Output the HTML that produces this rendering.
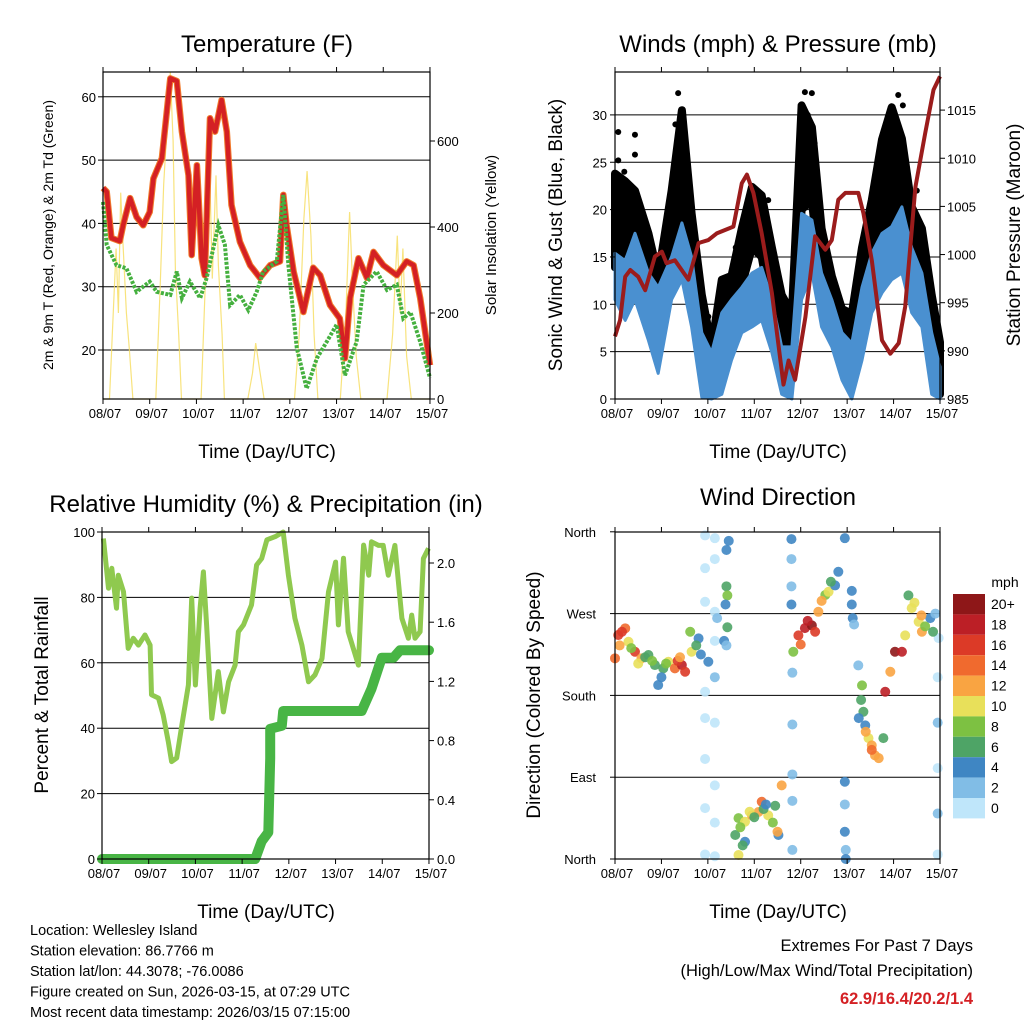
<!DOCTYPE html>
<html><head><meta charset="utf-8"><style>
body{margin:0;background:#fff}
svg{display:block;font-family:"Liberation Sans",Arial,sans-serif}
</style></head><body>
<svg id="c" width="1024" height="1024" viewBox="0 0 1024 1024"></svg>
<script>
// ---------- Temperature panel data ----------
const tDays=[0,0.08,0.18,0.36,0.43,0.58,0.72,0.86,1.0,1.08,1.26,1.44,1.58,1.69,1.83,1.9,2.01,2.11,2.18,2.29,2.4,2.54,2.65,2.75,2.93,3.15,3.36,3.58,3.79,3.86,3.93,4.08,4.29,4.5,4.65,4.86,5.07,5.18,5.29,5.47,5.65,5.79,6.0,6.29,6.5,6.65,6.79,7.0];
const tRed=[45.6,45,37.7,37.2,39.7,44,41,39.7,41.8,47.1,50.3,62.9,62.5,54.5,47.6,35,49.2,34.5,31.8,56.6,54.5,59.5,54.5,42.9,37.1,33.4,31.4,33.4,34,44.5,39.7,32.4,26,33,31.8,27.1,25,18.7,28.2,34.5,31.4,35.5,33.4,31.8,34,33.4,28.2,17.6];
const tdDays=[0,0.08,0.29,0.5,0.72,1.0,1.15,1.44,1.58,1.69,1.86,2.08,2.22,2.47,2.61,2.72,2.93,3.11,3.29,3.43,3.72,3.86,3.97,4.15,4.36,4.58,4.79,5.0,5.18,5.43,5.58,5.86,6.08,6.29,6.43,6.58,6.79,7.0];
const tdVals=[43.4,36.6,33.4,32.9,29.2,30.8,29.2,28.7,32.4,28.2,30.8,28.2,31.4,39.7,36.6,27.1,28.7,26.3,29.2,32.4,34,44.5,33.4,20.3,13.9,18.7,21.3,24,16,21.3,30.3,32.4,29.5,30.3,25,26,21.3,15.6];
const solDays=[0,0.14,0.2,0.28,0.33,0.38,0.42,0.5,0.56,0.64,1.13,1.22,1.3,1.38,1.44,1.5,1.55,1.62,1.68,2.1,2.2,2.28,2.34,2.42,2.47,2.55,2.6,3.1,3.2,3.27,3.35,3.45,4.1,4.2,4.3,4.37,4.45,4.52,4.6,5.08,5.2,5.28,5.35,5.42,5.52,6.08,6.2,6.3,6.36,6.42,6.5,6.6,7];
const solVals=[0,0,150,350,200,480,380,200,120,0,0,250,500,650,760,600,300,150,0,0,300,550,280,520,310,150,0,0,60,130,70,0,0,150,420,530,380,150,0,0,200,435,250,100,0,0,150,380,200,350,100,0,0];
const tTicks=[20,30,40,50,60], solTicks=[0,200,400,600];
const dayLabels=["08/07","09/07","10/07","11/07","12/07","13/07","14/07","15/07"];
// ---------- Wind panel data ----------
const wDays=[0,0.22,0.43,0.72,0.93,1.22,1.44,1.65,1.87,2.08,2.30,2.51,2.73,2.95,3.16,3.38,3.59,3.81,4.02,4.24,4.45,4.67,4.89,5.10,5.32,5.53,5.75,5.96,6.18,6.39,6.61,6.82,7];
const windHi=[15.4,14.6,17.5,13.3,11.8,15,18.6,15,7,4.9,9.1,10.5,11.8,13.3,13.9,10.5,5.5,5.5,19.6,18.9,13.3,10.5,7,5.9,11.8,15.4,17.5,18.2,20.3,16,13.3,7,3.4];
const windLo=[10.5,8.3,10.5,6.2,2.7,10.5,12.6,7.6,0.2,0,0.5,4.1,7,7.6,8.3,4.9,0.5,0,10.5,13.3,7.6,5.5,2,0,4.1,9.1,11.2,12.6,13.3,9.1,7.6,0.5,0];
const gustHi=[23.8,23,22,17.5,13,22,30.5,19.6,11,5.5,12.6,13,18,22.4,21.5,16,11,9,31,28.7,18,13,9.5,9,16,21,27.4,30.8,27.5,20.3,18,11,6];
const gustLo=[13.9,16,18,9,6,15,20,13,4,0.5,5,8,12,16,15,9,4,2,20,21,11,7.6,4,3,8.3,14.6,18,18,17.5,14,11,4.5,0.5];
const gustDotDays=[0.07,0.43,1.36,4.09,4.24,6.1,5.96,2.01,0.07,0.43,1.3,1.5,4.15,4.3,5.9,6.2,0.2,2.6,3.3,6.5];
const gustDotVals=[28.2,27.9,32.3,32.4,32.3,32.1,30.9,8.7,25.2,25.8,29,28,30,27,29,31,24,16,21,22];
const pDays=[0,0.11,0.22,0.33,0.5,0.65,0.86,1.01,1.11,1.29,1.58,1.8,2.01,2.19,2.55,2.73,2.84,2.98,3.16,3.38,3.63,3.74,3.88,4.1,4.31,4.53,4.67,4.81,4.96,5.24,5.35,5.53,5.75,5.93,6.11,6.25,6.47,6.68,6.86,7.0];
const pVals=[991.5,993.2,997.7,998.4,997.7,996.3,999.8,1000.3,999.1,999.4,997.4,1001.2,1001.5,1002.2,1002.9,1007.4,1008.3,1006.4,1002.2,996,986.5,989,987,993.5,1001.9,1000.5,1001.5,1005.7,1006.4,1006.4,1004.3,999.4,991.1,989.7,990.8,994.6,1007,1012.6,1017.1,1018.5];
const wTicks=[0,5,10,15,20,25,30], pTicks=[985,990,995,1000,1005,1010,1015];
// ---------- RH / precip ----------
const rhDays=[0.03,0.14,0.21,0.31,0.35,0.46,0.56,0.67,0.78,0.92,1.03,1.06,1.21,1.31,1.42,1.49,1.6,1.71,1.85,1.92,2.0,2.1,2.17,2.24,2.35,2.49,2.6,2.71,2.85,2.92,3.03,3.2,3.31,3.42,3.53,3.71,3.88,3.99,4.13,4.28,4.42,4.56,4.71,4.85,5.0,5.06,5.17,5.27,5.49,5.6,5.71,5.77,5.92,6.02,6.13,6.27,6.42,6.56,6.63,6.7,6.81,6.88,6.99];
const rhVals=[98,82.8,88.9,76.7,86.8,81.7,64.4,67.5,65.4,68.5,65.4,50.2,49.2,44,35.9,29.8,30.9,41,53.2,79.8,53.2,76.7,87.8,71.6,43,57.3,45,54.2,59.3,69.5,71.6,77.7,89.9,91.9,97.6,98.6,100,86.8,73.6,65.4,54.2,56.3,61.3,81.7,90.8,71.6,92,69.5,59.3,96,86.8,97,95.9,95.9,86.8,95.9,73.6,67.5,74.6,67.5,69.5,91.9,95];
const prDays=[0,3.28,3.42,3.56,3.6,3.6,3.85,3.88,5.56,5.77,5.99,6.24,6.38,7.0];
const prVals=[0,0,0.12,0.18,0.68,0.88,0.9,1.0,1.0,1.15,1.36,1.36,1.41,1.41];
const rhTicks=[0,20,40,60,80,100], prTicks=[0,0.4,0.8,1.2,1.6,2.0];
// ---------- Wind direction ----------
const wdDays=[0,0.07,0.22,0.29,0.43,0.57,0.72,0.86,0.93,1.04,1.15,1.29,1.44,1.51,1.65,1.62,1.8,2.01,0.1,0.15,0.35,0.5,0.65,0.8,1.0,1.1,1.35,1.4,1.75,1.85,
1.94,1.94,1.94,1.94,1.94,1.94,1.94,1.94,2.15,2.15,2.15,2.15,2.15,2.15,2.15,2.15,2.15,2.4,2.42,2.38,2.45,2.4,2.42,2.35,2.4,2.2,
2.59,2.66,2.8,2.95,3.09,3.16,3.3,3.45,3.59,3.52,2.66,2.8,2.7,2.9,3.0,3.2,3.4,3.5,3.25,2.75,
3.8,3.8,3.8,3.8,3.82,3.82,3.82,3.82,3.82,
3.84,3.95,4.09,4.24,4.31,4.38,4.53,4.6,4.74,4.81,4.0,4.15,4.45,4.65,
4.95,4.95,4.95,4.95,4.97,4.97,5.1,5.12,5.15,5.1,
5.24,5.32,5.35,5.39,5.46,5.53,5.6,5.68,5.78,5.53,5.3,5.4,5.25,
5.82,5.93,6.03,6.18,6.25,6.32,6.39,6.54,6.61,6.68,6.79,6.9,6.97,6.45,6.6,6.85,6.95,6.95,6.95,6.95,6.95];
const wdDir=[220.8,246.4,253.8,239,228,220.8,224.4,213.4,191.4,209.8,217,209.8,213.4,206,228,250,242.7,217,235,250,232,215,222,218,200,215,218,222,235,225,
356,320,283,184,155,110,56,5,353,330,272,240,200,150,81,40,3,300,290,280,350,340,255,240,235,265,
26.4,45,41,48,51.7,63,48,58.6,81,26.4,4.4,19,35,52,46,55,40,30,60,15,
352,330,300,280,205,148,93,64,10,
228,246,254,257,250,272,290.5,294,301,316,236,262,284,305,
353,85,60,30,10,0,280,265,258,295,
213,191,162,147,133,125,114,111,133,120,175,140,155,
184,206,228,228,246,290,276,261,250,256,265,270,243,282,268,250,200,150,100,50,5];
const wdSpd=[14,16,14,10,16,12,6,6,4,6,10,14,18,16,10,8,4,4,12,16,8,10,6,8,4,8,16,12,6,4,
0,0,0,0,0,0,0,0,0,0,0,0,2,0,0,0,0,6,8,4,4,4,6,4,2,2,
6,8,10,12,12,14,10,6,12,4,10,4,8,10,6,6,8,12,4,6,
4,2,2,4,2,2,2,2,2,
8,16,18,20,16,12,8,10,4,4,14,18,12,6,
4,4,2,4,2,4,4,4,2,4,
2,8,6,4,10,12,12,12,6,14,6,12,4,
18,12,20,18,10,6,10,10,12,8,4,2,0,10,12,6,0,2,0,2,0];
const dirTicks=[0,90,180,270,360], dirLabels=["North","East","South","West","North"];
const cbLabels=["20+","18","16","14","12","10","8","6","4","2","0"];
const cbColors=["#8e1718","#bc1f26","#dc3a27","#f06a2e","#f9a442","#e8e05a","#7dc142","#4ea466","#3f86c3","#81bde6","#bfe6fa"];

const S=document.getElementById('c');const NS="http://www.w3.org/2000/svg";
function el(t,a,p){const e=document.createElementNS(NS,t);for(const k in a)e.setAttribute(k,a[k]);(p||S).appendChild(e);return e;}
function txt(x,y,s,size,anchor,extra){const e=el('text',Object.assign({x:x,y:y,'font-size':size,'text-anchor':anchor||'middle',fill:'#000'},extra||{}));e.textContent=s;return e;}
function poly(xs,ys,fx,fy){return xs.map((d,i)=>fx(d).toFixed(1)+','+fy(ys[i]).toFixed(1)).join(' ');}

const x1=d=>103+d*46.71, yT=v=>350-(v-20)*6.33, yS=w=>399-w*0.43;
const x2=d=>615+d*46.43, yW=s=>399-s*9.47, yP=p=>399-(p-985)*9.63;
const x3=d=>102+d*46.71, yR=r=>859-r*3.27, yPr=i=>859-i*148;
const yD=g=>859-g*0.9089;

function frame(name,L,T,R,B,xf,xlabY){
  const g=el('g',{});
  
  
  dayLabels.forEach((l,i)=>{const x=xf(i);
    el('line',{x1:x,x2:x,y1:B,y2:B+5,stroke:'#000'},g);
    el('line',{x1:x,x2:x,y1:T,y2:T-5,stroke:'#000'},g);
    const t=txt(x+2,xlabY,l,13,'middle');});
  return g;}
function box(L,T,R,B){el('rect',{x:L,y:T,width:R-L,height:B-T,fill:'none',stroke:'#000','stroke-width':1.2});}
function hgrid(L,R,ys){ys.forEach(y=>el('line',{x1:L,x2:R,y1:y,y2:y,stroke:'#000','stroke-width':1}));}

// ===== Panel 1 =====
txt(267,52,"Temperature (F)",24);
hgrid(103,430,tTicks.map(yT));
el('polyline',{points:poly(solDays,solVals,x1,yS),fill:'none',stroke:'#f6dc5c','stroke-width':1.2,opacity:0.8,});
el('polyline',{points:poly(tDays,tRed,x1,yT),fill:'none',stroke:'#f07a2c','stroke-width':6.5,'stroke-linejoin':'round',});
el('polyline',{points:poly(tDays,tRed,x1,yT),fill:'none',stroke:'#d42024','stroke-width':4.5,'stroke-linejoin':'round',});
el('polyline',{points:poly(tdDays,tdVals,x1,yT),fill:'none',stroke:'#45b03f','stroke-width':4,'stroke-dasharray':'3 1.5',});
box(103,72,430,399);
frame('temp-x-axis',103,72,430,399,x1,418);
tTicks.forEach(v=>{el('line',{x1:98,x2:103,y1:yT(v),y2:yT(v),stroke:'#000'});txt(96,yT(v)+5,String(v),13,'end');});
solTicks.forEach(v=>{el('line',{x1:430,x2:435,y1:yS(v),y2:yS(v),stroke:'#000'});txt(437,yS(v)+5,String(v),13,'start');});
txt(0,0,"2m & 9m T (Red, Orange) & 2m Td (Green)",14,'middle',{transform:'translate(53,235) rotate(-90)',});
txt(0,0,"Solar Insolation (Yellow)",15,'middle',{transform:'translate(496,235) rotate(-90)',});
txt(267,458,"Time (Day/UTC)",19);

// ===== Panel 2 =====
txt(778,52,"Winds (mph) & Pressure (mb)",24);
hgrid(615,940,wTicks.slice(1).map(yW));
const gp=wDays.map((d,i)=>x2(d).toFixed(1)+','+yW(gustHi[i]).toFixed(1)).concat(wDays.slice().reverse().map((d,j)=>{const i=wDays.length-1-j;return x2(d).toFixed(1)+','+yW(gustLo[i]).toFixed(1);})).join(' ');
el('polygon',{points:gp,fill:'#000',stroke:'#000','stroke-width':8,'stroke-linejoin':'round',});
gustDotDays.forEach((d,i)=>{const c=el('circle',{cx:x2(d),cy:yW(gustDotVals[i]),r:3,fill:'#000'});

});
const wp=wDays.map((d,i)=>x2(d).toFixed(1)+','+yW(windHi[i]).toFixed(1)).concat(wDays.slice().reverse().map((d,j)=>{const i=wDays.length-1-j;return x2(d).toFixed(1)+','+yW(windLo[i]).toFixed(1);})).join(' ');
el('polygon',{points:wp,fill:'#4a90d0',stroke:'#4a90d0','stroke-width':3,'stroke-linejoin':'round',});
el('polyline',{points:poly(pDays,pVals,x2,yP),fill:'none',stroke:'#9b1c1c','stroke-width':4,'stroke-linejoin':'round',});
box(615,72,940,399);
frame('wind-x-axis',615,72,940,399,x2,418);
wTicks.forEach(v=>{el('line',{x1:610,x2:615,y1:yW(v),y2:yW(v),stroke:'#000'});txt(607,yW(v)+5,String(v),13,'end');});
pTicks.forEach(v=>{el('line',{x1:940,x2:945,y1:yP(v),y2:yP(v),stroke:'#000'});txt(947,yP(v)+5,String(v),13,'start');});
txt(0,0,"Sonic Wind & Gust (Blue, Black)",19,'middle',{transform:'translate(562,235) rotate(-90)',});
txt(0,0,"Station Pressure (Maroon)",19,'middle',{transform:'translate(1020,235) rotate(-90)',});
txt(778,458,"Time (Day/UTC)",19);

// ===== Panel 3 =====
txt(266,512,"Relative Humidity (%) & Precipitation (in)",24);
hgrid(102,429,rhTicks.slice(1,5).map(yR));
el('polyline',{points:poly(rhDays,rhVals,x3,yR),fill:'none',stroke:'#8fc94f','stroke-width':5,'stroke-linejoin':'round',});
el('polyline',{points:poly(prDays,prVals,x3,yPr),fill:'none',stroke:'#48b545','stroke-width':10,'stroke-linecap':'round','stroke-linejoin':'round',});
box(102,532,429,859);
frame('rh-x-axis',102,532,429,859,x3,878);
rhTicks.forEach(v=>{el('line',{x1:97,x2:102,y1:yR(v),y2:yR(v),stroke:'#000'});txt(95,yR(v)+5,String(v),13,'end');});
prTicks.forEach(v=>{el('line',{x1:429,x2:434,y1:yPr(v),y2:yPr(v),stroke:'#000'});txt(437,yPr(v)+5,v.toFixed(1),13,'start');});
txt(0,0,"Percent & Total Rainfall",19,'middle',{transform:'translate(48,695) rotate(-90)',});
txt(266,918,"Time (Day/UTC)",19);

// ===== Panel 4 =====
txt(778,505,"Wind Direction",24);
hgrid(615,940,[90,180,270].map(yD));
function spdColor(s){let k=Math.min(10,Math.floor(s/2+0.5));return cbColors[10-k];}
wdDays.forEach((d,i)=>{const c=el('circle',{cx:x2(d),cy:yD(wdDir[i]),r:5,fill:spdColor(wdSpd[i]),opacity:0.9});

});
box(615,532,940,859);
frame('wdir-x-axis',615,532,940,859,x2,878);
dirTicks.forEach((v,i)=>{el('line',{x1:610,x2:615,y1:yD(v),y2:yD(v),stroke:'#000'});txt(596,yD(v)+5,dirLabels[i],13,'end');});
txt(0,0,"Direction (Colored By Speed)",19,'middle',{transform:'translate(540,695) rotate(-90)',});
txt(778,918,"Time (Day/UTC)",19);
txt(1005,587,"mph",14);
cbColors.forEach((c,i)=>{const r=el('rect',{x:953,y:594+i*20.4,width:32,height:20.4,fill:c});


txt(991,594+i*20.4+15,cbLabels[i],14,'start');});

// ===== Text block =====
const info=["Location: Wellesley Island","Station elevation: 86.7766 m","Station lat/lon: 44.3078; -76.0086","Figure created on Sun, 2026-03-15, at 07:29 UTC","Most recent data timestamp: 2026/03/15 07:15:00"];
info.forEach((s,i)=>{const t=txt(30,935+i*20.5,s,14.5,'start');});
txt(973,951,"Extremes For Past 7 Days",16.5,'end');
txt(973,976,"(High/Low/Max Wind/Total Precipitation)",16.5,'end');
txt(973,1004,"62.9/16.4/20.2/1.4",16.5,'end',{fill:'#d42024','font-weight':'bold'});
</script>
</body></html>
